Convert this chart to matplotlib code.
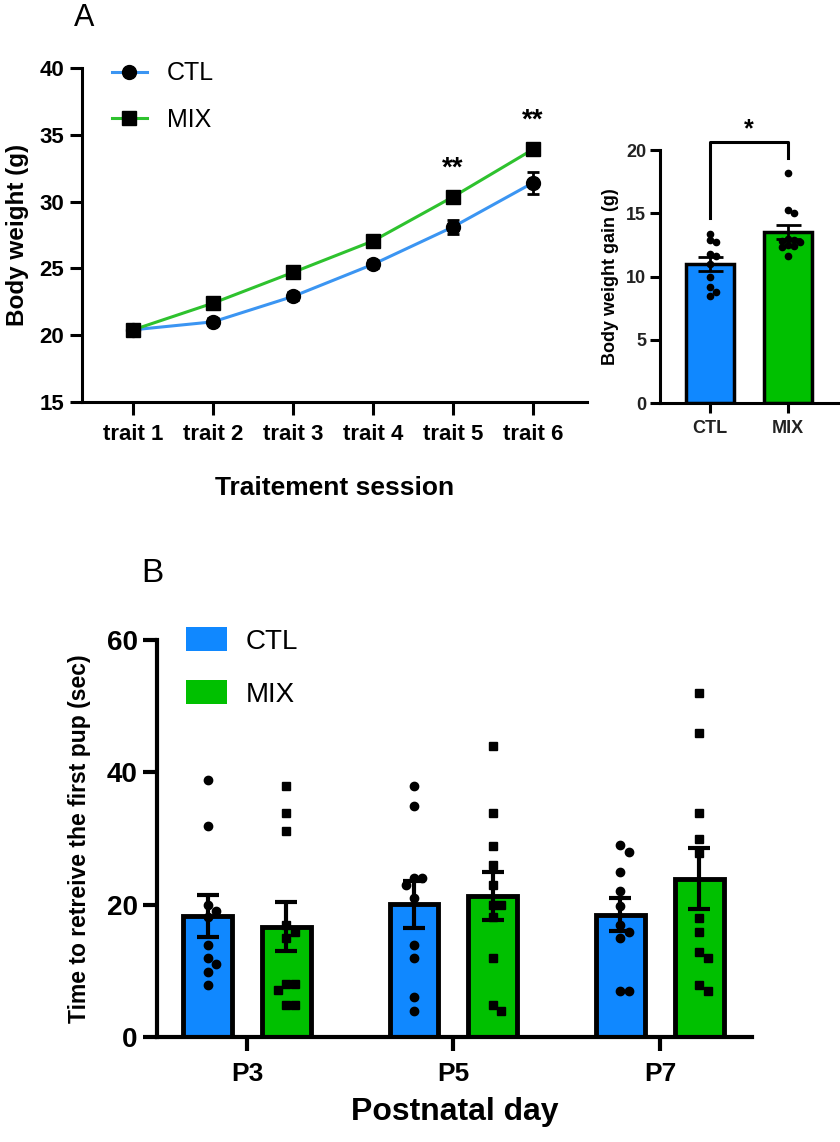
import numpy as np
import matplotlib
matplotlib.use("Agg")
from matplotlib import pyplot as plt
from matplotlib.lines import Line2D
from matplotlib.patches import Patch

plt.rcParams["font.family"] = ["Liberation Sans", "DejaVu Sans"]

BLUE_LINE = "#3b95f2"
GREEN_LINE = "#2ec22e"
BLUE_BAR = "#1088ff"
GREEN_BAR = "#00c000"

# Panel A (left): body weight per treatment session
sessions = ["trait 1", "trait 2", "trait 3", "trait 4", "trait 5", "trait 6"]
ctl_weight = [20.4, 21.0, 22.9, 25.3, 28.1, 31.4]
ctl_weight_sem = [0.2, 0.25, 0.3, 0.3, 0.5, 0.8]
mix_weight = [20.4, 22.4, 24.7, 27.05, 30.35, 33.9]
mix_weight_sem = [0.2, 0.25, 0.3, 0.3, 0.35, 0.4]
weight_stars = ["", "", "", "", "**", "**"]

# Panel A (right): body weight gain
groups = ["CTL", "MIX"]
ctl_gain = [13.4, 12.9, 12.7, 11.8, 11.6, 11.0, 10.0, 9.2, 8.8, 8.5]
mix_gain = [18.2, 15.3, 15.0, 13.0, 12.9, 12.8, 12.7, 12.5, 12.4, 12.3, 11.6]

# Panel B: time to retrieve the first pup
days = ["P3", "P5", "P7"]
ctl_time = [
    [38.9, 31.9, 20.0, 19.0, 18.2, 13.9, 11.9, 11.0, 9.9, 7.9],
    [38.0, 34.9, 24.0, 24.0, 23.0, 21.0, 13.9, 11.9, 6.0, 4.0],
    [29.0, 27.9, 25.0, 22.0, 19.8, 16.9, 15.9, 14.9, 6.9, 6.9],
]
mix_time = [
    [38.0, 33.9, 31.1, 16.9, 15.9, 14.9, 8.0, 8.0, 7.1, 4.8, 4.8],
    [44.0, 33.9, 28.9, 26.0, 23.0, 20.0, 20.0, 18.2, 11.9, 4.8, 4.0],
    [52.0, 46.0, 33.9, 29.9, 27.8, 18.0, 15.9, 12.9, 11.9, 7.9, 6.9],
]


def mean_sem(values):
    v = np.asarray(values, dtype=float)
    return v.mean(), v.std(ddof=1) / np.sqrt(len(v))


def swarm(values, center, dx, thr):
    """Spread close points sideways so they do not overlap."""
    values = np.asarray(values, dtype=float)
    xs = np.empty(len(values))
    placed = []
    for i in np.argsort(values)[::-1]:
        v = values[i]
        for k in (0, 1, -1, 2, -2):
            x = center + k * dx
            if all(abs(v - pv) >= thr or abs(x - px) >= 0.9 * dx for px, pv in placed):
                break
        xs[i] = x
        placed.append((x, v))
    return xs


def style_axes(ax, lw, ticklen):
    for side in ("top", "right"):
        ax.spines[side].set_visible(False)
    for side in ("left", "bottom"):
        ax.spines[side].set_linewidth(lw)
    ax.tick_params(width=lw, length=ticklen, direction="out")


fig = plt.figure(figsize=(8.4, 11.42), dpi=100)

# ---------------- Panel A, line chart ----------------
ax1 = fig.add_axes([0.0976, 0.648, 0.601, 0.2925])
x = np.arange(len(sessions))
ax1.errorbar(x, ctl_weight, yerr=ctl_weight_sem, color=BLUE_LINE, lw=2.2,
             marker="o", ms=10, mfc="black", mec="black", ecolor="black",
             elinewidth=2, capsize=4, capthick=2, zorder=3)
ax1.errorbar(x, mix_weight, yerr=mix_weight_sem, color=GREEN_LINE, lw=2.2,
             marker="s", ms=9.5, mfc="black", mec="black", ecolor="black",
             elinewidth=2, capsize=4, capthick=2, zorder=4)
for i, s in enumerate(weight_stars):
    if s:
        top = max(ctl_weight[i] + ctl_weight_sem[i], mix_weight[i] + mix_weight_sem[i])
        ax1.text(i, top + 0.8, s, ha="center", va="bottom", fontsize=20,
                 fontweight="bold")
ax1.set_xlim(-0.64, 5.675)
ax1.set_ylim(15, 40)
ax1.set_yticks([15, 20, 25, 30, 35, 40])
ax1.set_xticks(x)
ax1.set_xticklabels(sessions)
style_axes(ax1, 2.2, 9)
ax1.tick_params(labelsize=16, pad=4)
ax1.tick_params(axis="x", pad=7)
for lab in ax1.get_xticklabels() + ax1.get_yticklabels():
    lab.set_fontweight("bold")
ax1.set_ylabel("Body weight (g)", fontsize=17.5, fontweight="bold", labelpad=7)
ax1.set_xlabel("Traitement session", fontsize=19, fontweight="bold", labelpad=22)
handles = [
    Line2D([], [], color=BLUE_LINE, lw=2.2, marker="o", ms=10, mfc="black", mec="black"),
    Line2D([], [], color=GREEN_LINE, lw=2.2, marker="s", ms=9.5, mfc="black", mec="black"),
]
ax1.legend(handles, groups, loc="upper left", bbox_to_anchor=(0.059, 1.02),
           frameon=False, fontsize=18, handlelength=1.4, handletextpad=0.8,
           labelspacing=0.9, borderpad=0, borderaxespad=0)
fig.text(0.088, 0.997, "A", fontsize=22, va="top")

# ---------------- Panel A, weight gain bars ----------------
ax2 = fig.add_axes([0.7857, 0.6471, 0.2143, 0.2215])
gain_data = [ctl_gain, mix_gain]
gain_colors = [BLUE_BAR, GREEN_BAR]
for i, vals in enumerate(gain_data):
    m, se = mean_sem(vals)
    ax2.bar(i, m, width=0.615, color=gain_colors[i], edgecolor="black",
            linewidth=2.5, zorder=1)
    ax2.plot(swarm(vals, i, 0.075, 0.45), vals, ls="none", marker="o",
             ms=4.5, color="black", zorder=2)
    ax2.errorbar(i, m, yerr=se, color="black", elinewidth=2, capsize=9,
                 capthick=2, zorder=3)
ax2.plot([0, 0, 1, 1], [14.6, 20.6, 20.6, 19.4], color="black", lw=2.2,
         clip_on=False)
ax2.text(0.5, 20.7, "*", ha="center", va="bottom", fontsize=18, fontweight="bold")
ax2.set_xlim(-0.641, 1.667)
ax2.set_ylim(0, 20)
ax2.set_yticks([0, 5, 10, 15, 20])
ax2.set_xticks([0, 1])
ax2.set_xticklabels(groups)
style_axes(ax2, 2.2, 7)
ax2.tick_params(labelsize=13, pad=3, labelcolor="#222222")
for lab in ax2.get_xticklabels() + ax2.get_yticklabels():
    lab.set_fontweight("bold")
ax2.tick_params(axis="x", pad=5)
ax2.set_ylabel("Body weight gain (g)", fontsize=13, fontweight="bold", labelpad=5)

# ---------------- Panel B ----------------
ax3 = fig.add_axes([0.1869, 0.0919, 0.7083, 0.3476])
off = 0.191
width = 0.237
for g in range(len(days)):
    for vals, sign, color, marker in ((ctl_time[g], -1, BLUE_BAR, "o"),
                                      (mix_time[g], 1, GREEN_BAR, "s")):
        xc = g + sign * off
        m, se = mean_sem(vals)
        ax3.bar(xc, m, width=width, color=color, edgecolor="black",
                linewidth=3.5, zorder=1)
        ax3.plot(swarm(vals, xc, 0.04, 1.15), vals, ls="none", marker=marker,
                 ms=6, color="black", zorder=2)
        ax3.errorbar(xc, m, yerr=se, color="black", elinewidth=3, capsize=8,
                     capthick=3, zorder=3)
ax3.set_xlim(-0.436, 2.446)
ax3.set_ylim(0, 60)
ax3.set_yticks([0, 20, 40, 60])
ax3.set_xticks(range(len(days)))
ax3.set_xticklabels(days)
style_axes(ax3, 3, 10)
ax3.tick_params(labelsize=20, pad=4)
ax3.tick_params(axis="x", labelsize=19, pad=8)
for lab in ax3.get_xticklabels() + ax3.get_yticklabels():
    lab.set_fontweight("bold")
ax3.set_ylabel("Time to retreive the first pup (sec)", fontsize=16.5,
               fontweight="bold", labelpad=11)
ax3.set_xlabel("Postnatal day", fontsize=23, fontweight="bold", labelpad=8)
ax3.legend([Patch(facecolor=BLUE_BAR), Patch(facecolor=GREEN_BAR)], groups,
           loc="upper left", bbox_to_anchor=(0.048, 1.032), frameon=False,
           fontsize=20, handlelength=1.5, handleheight=0.95, handletextpad=0.65,
           labelspacing=0.92, borderpad=0, borderaxespad=0)
fig.text(0.168, 0.511, "B", fontsize=24, va="top")

fig.savefig("out.png", dpi=100)
